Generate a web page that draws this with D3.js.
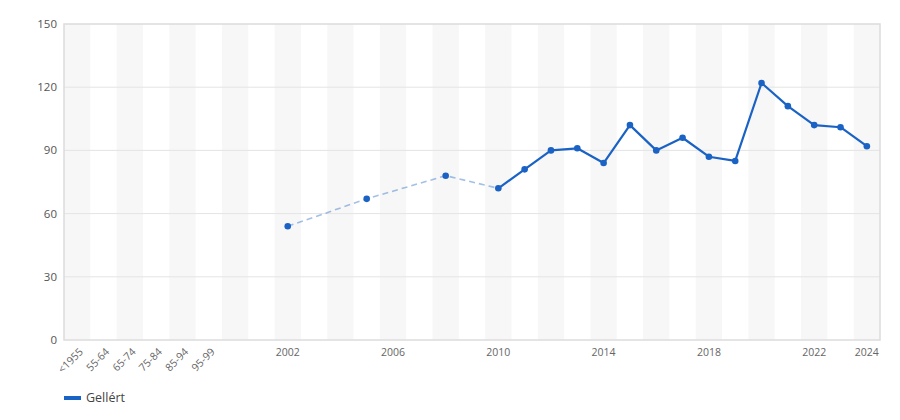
<!DOCTYPE html>
<html><head><meta charset="utf-8">
<script src="https://cdn.jsdelivr.net/npm/d3@7"></script>
<style>body{margin:0;background:#fff}svg{display:block;font-family:"Open Sans",sans-serif}</style>
</head><body><svg id="c" width="900" height="420"></svg>
<script>
const categories = ["<1955","55-64","65-74","75-84","85-94","95-99",
  "2000","2001","2002","2003","2004","2005","2006","2007","2008","2009","2010",
  "2011","2012","2013","2014","2015","2016","2017","2018","2019","2020","2021","2022","2023","2024"];
const years  = ["2002","2005","2008","2010","2011","2012","2013","2014","2015","2016","2017","2018","2019","2020","2021","2022","2023","2024"];
const values = [54,67,78,72,81,90,91,84,102,90,96,87,85,122,111,102,101,92];
const dashedUntil = "2010";
const shownXLabels = ["<1955","55-64","65-74","75-84","85-94","95-99","2002","2006","2010","2014","2018","2022","2024"];
const rotatedLabels = ["<1955","55-64","65-74","75-84","85-94","95-99"];
const yTicks = [0,30,60,90,120,150];
const seriesName = "Gellért";

const color = "#1a62c4";
const svg = d3.select("#c");
const L=64, R=880, T=24, B=340;
const x = d3.scaleBand().domain(categories).range([L,R]).padding(0);
const y = d3.scaleLinear().domain([0,150]).range([B,T]);

// stripes
svg.append("g").selectAll("rect").data(categories.filter((d,i)=>i%2===0)).join("rect")
  .attr("x",d=>x(d)).attr("y",T).attr("width",x.bandwidth()).attr("height",B-T).attr("fill","#f7f7f7");

// grid
svg.append("g").selectAll("line").data(yTicks.slice(1,-1)).join("line")
  .attr("x1",L).attr("x2",R).attr("y1",d=>y(d)).attr("y2",d=>y(d)).attr("stroke","#e4e4e4").attr("stroke-width",1);

// frame
svg.append("rect").attr("x",L).attr("y",T).attr("width",R-L).attr("height",B-T)
  .attr("fill","none").attr("stroke","#dcdcdc").attr("stroke-width",1.5);

// y labels
svg.append("g").selectAll("text").data(yTicks).join("text")
  .attr("x",L-7).attr("y",d=>y(d)).attr("dy","0.35em").attr("text-anchor","end")
  .attr("font-size",11.5).attr("fill","#555").text(d=>d);

// x labels
const xl = svg.append("g");
shownXLabels.forEach(d=>{
  const cx = x(d)+x.bandwidth()/2;
  if(rotatedLabels.includes(d)){
    xl.append("text").attr("transform",`translate(${cx+4},${B+10}) rotate(-45)`)
      .attr("text-anchor","end").attr("dy","0.35em").attr("font-size",10.5).attr("fill","#666").text(d);
  } else {
    xl.append("text").attr("x",cx).attr("y",B+16).attr("text-anchor","middle")
      .attr("font-size",10.5).attr("fill","#666").text(d);
  }
});

const pts = years.map((yr,i)=>({yr, v:values[i]}));
const cut = years.indexOf(dashedUntil);
const line = d3.line().x(d=>x(d.yr)+x.bandwidth()/2).y(d=>y(d.v));
svg.append("path").attr("d",line(pts.slice(0,cut+1))).attr("fill","none")
  .attr("stroke",color).attr("stroke-opacity",0.4).attr("stroke-width",1.6).attr("stroke-dasharray","6,4");
svg.append("path").attr("d",line(pts.slice(cut))).attr("fill","none")
  .attr("stroke",color).attr("stroke-width",2.2).attr("stroke-linejoin","round");
svg.append("g").selectAll("circle").data(pts).join("circle")
  .attr("cx",d=>x(d.yr)+x.bandwidth()/2).attr("cy",d=>y(d.v)).attr("r",3.3).attr("fill",color);

// legend
svg.append("line").attr("x1",64).attr("x2",81).attr("y1",398).attr("y2",398).attr("stroke",color).attr("stroke-width",4);
svg.append("text").attr("x",86).attr("y",398).attr("dy","0.35em").attr("font-size",12.5).attr("fill","#444").text(seriesName);
</script></body></html>
